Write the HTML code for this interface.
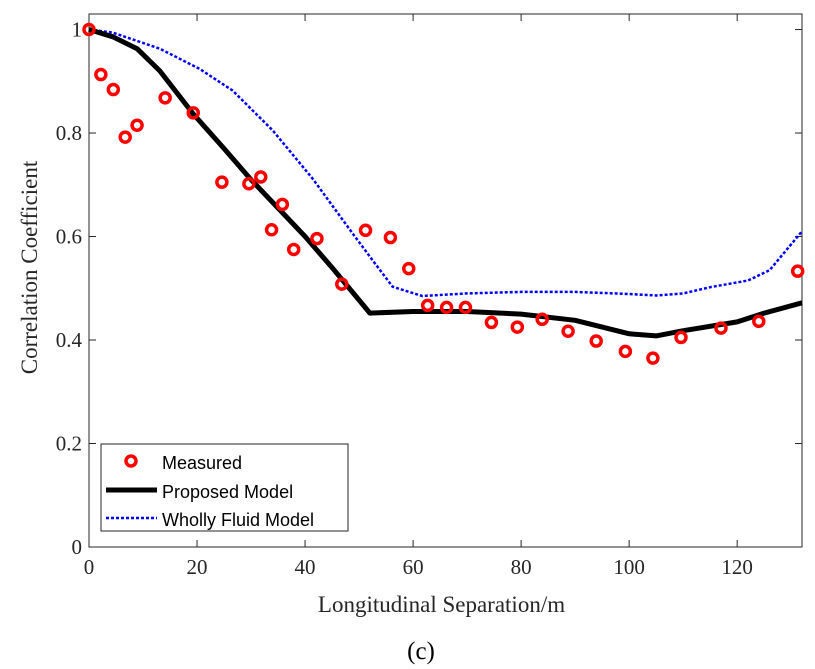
<!DOCTYPE html>
<html><head><meta charset="utf-8"><style>
body{margin:0;background:#fff;}
svg{display:block;}
</style></head><body>
<svg id="chart" width="815" height="669" xmlns="http://www.w3.org/2000/svg"></svg>
<script>
const measuredX=[0,2.2,4.5,6.7,8.9,14.1,19.3,24.6,29.6,31.8,33.8,35.8,37.9,42.2,46.8,51.2,55.8,59.2,62.7,66.2,69.7,74.5,79.3,83.9,88.7,93.9,99.3,104.4,109.6,117,124,131.2];
const measuredY=[1.0,0.913,0.884,0.792,0.815,0.868,0.839,0.705,0.702,0.715,0.613,0.662,0.575,0.596,0.508,0.612,0.598,0.538,0.467,0.463,0.463,0.434,0.425,0.44,0.417,0.398,0.378,0.365,0.405,0.423,0.436,0.533];
const proposedX=[0,4.4,8.9,13.1,19.3,25,30,35,40,45,52,60,70,80,90,100,105,110,120,125,132];
const proposedY=[1,0.986,0.963,0.92,0.837,0.77,0.71,0.655,0.6,0.54,0.452,0.455,0.455,0.45,0.438,0.412,0.408,0.418,0.435,0.452,0.472];
const fluidX=[0,4.4,13.1,20.5,26.6,34,41.4,48.8,52.5,56.2,61.7,70,80,90,100,105,110,115,122,126,132];
const fluidY=[1,0.994,0.963,0.924,0.882,0.805,0.712,0.606,0.554,0.503,0.485,0.49,0.493,0.493,0.489,0.486,0.49,0.502,0.515,0.535,0.61];
const xTicks=[0,20,40,60,80,100,120];
const yTicks=[0,0.2,0.4,0.6,0.8,1];
const yTickLabels=["0","0.2","0.4","0.6","0.8","1"];

const L=89,R=802,T=14,B=547,XMAX=132,YMAX=1.03;
const sx=v=>L+v/XMAX*(R-L);
const sy=v=>B-v/YMAX*(B-T);
const svg=document.getElementById('chart');
const NS='http://www.w3.org/2000/svg';
function mk(tag,attrs,parent){const e=document.createElementNS(NS,tag);for(const k in attrs)e.setAttribute(k,attrs[k]);(parent||svg).appendChild(e);return e;}

const frame=mk('rect',{x:L,y:T,width:R-L,height:B-T,fill:'#fff',stroke:'#262626','stroke-width':1});



xTicks.forEach(t=>{
  const x=sx(t);
  const a=mk('line',{x1:x,x2:x,y1:B,y2:B-7,stroke:'#262626'});
  
  
  const b=mk('line',{x1:x,x2:x,y1:T,y2:T+7,stroke:'#262626'});
  
  
  const tx=mk('text',{x:x,y:B+27,'text-anchor':'middle','font-family':'Liberation Serif, serif','font-size':21,fill:'#262626'});
  tx.textContent=t;
  
  
});
yTicks.forEach((t,i)=>{
  const y=sy(t);
  const a=mk('line',{x1:L,x2:L+7,y1:y,y2:y,stroke:'#262626'});
  
  
  const b=mk('line',{x1:R,x2:R-7,y1:y,y2:y,stroke:'#262626'});
  
  
  const tx=mk('text',{x:L-7,y:y+7,'text-anchor':'end','font-family':'Liberation Serif, serif','font-size':21,fill:'#262626'});
  tx.textContent=yTickLabels[i];
  
  
});

const pts=(xs,ys)=>xs.map((x,i)=>sx(x).toFixed(1)+','+sy(ys[i]).toFixed(1)).join(' ');
const fl=mk('polyline',{points:pts(fluidX,fluidY),fill:'none',stroke:'#0000ff','stroke-width':2.5,'stroke-dasharray':'3,2','stroke-linejoin':'round'});


const pl=mk('polyline',{points:pts(proposedX,proposedY),fill:'none',stroke:'#000','stroke-width':5,'stroke-linejoin':'round'});


measuredX.forEach((x,i)=>{
  const c=mk('circle',{cx:sx(x),cy:sy(measuredY[i]),r:5,fill:'none',stroke:'#ff0000','stroke-width':3.5});
  
  
});

const xl=mk('text',{x:(L+R)/2-4,y:612,'text-anchor':'middle','font-family':'Liberation Serif, serif','font-size':23,fill:'#262626'});
xl.textContent='Longitudinal Separation/m';


const yl=mk('text',{x:0,y:0,'text-anchor':'middle','font-family':'Liberation Serif, serif','font-size':23,fill:'#262626',transform:'translate(37,'+((T+B)/2-13)+') rotate(-90)'});
yl.textContent='Correlation Coefficient';


const cap=mk('text',{x:421,y:659,'text-anchor':'middle','font-family':'Liberation Serif, serif','font-size':25,fill:'#000'});
cap.textContent='(c)';



const lg=mk('g',{});


mk('rect',{x:101,y:444,width:247,height:87,fill:'#fff',stroke:'#262626','stroke-width':1},lg);
const items=[['Measured',462],['Proposed Model',491],['Wholly Fluid Model',519]];
const m=mk('circle',{cx:131,cy:461,r:5,fill:'none',stroke:'#ff0000','stroke-width':3.5},lg);


const p=mk('line',{x1:106,x2:157,y1:490,y2:490,stroke:'#000','stroke-width':5},lg);


const f=mk('line',{x1:106,x2:157,y1:518,y2:518,stroke:'#0000ff','stroke-width':2.5,'stroke-dasharray':'3,2'},lg);


items.forEach(it=>{
  const t=mk('text',{x:162,y:it[1]+7,'font-family':'Liberation Sans, sans-serif','font-size':18,fill:'#000'},lg);
  t.textContent=it[0];
  
  
});
</script>
</body></html>
